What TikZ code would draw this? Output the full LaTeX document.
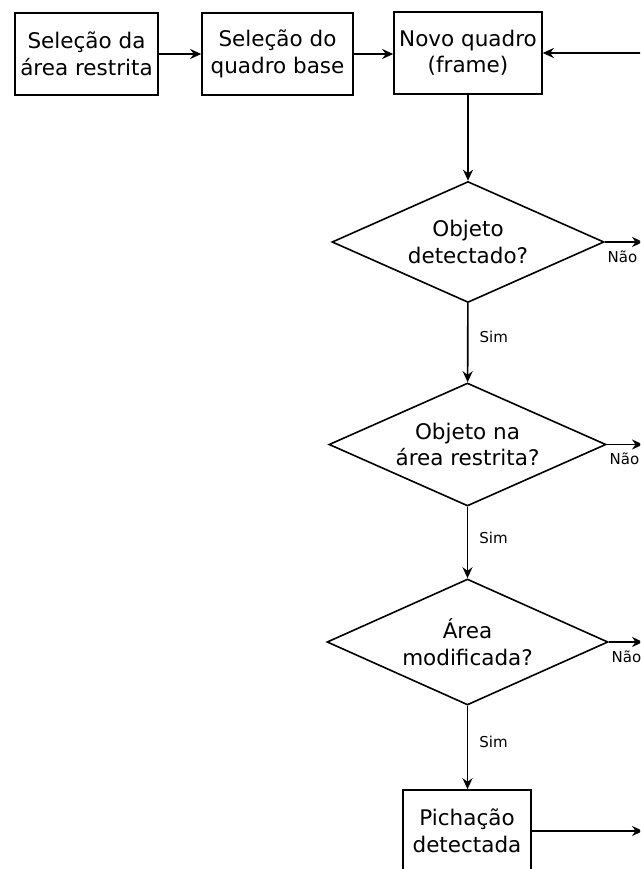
\documentclass[tikz,border=0pt]{standalone}
\usepackage{fontspec}
\setmainfont{DejaVu Sans}
\usetikzlibrary{shapes.geometric,arrows.meta}

\begin{document}
\begin{tikzpicture}[x=1pt,y=-1pt,
box/.style={draw,line width=1.6pt,align=center,inner sep=0pt,minimum height=82pt,font=\fontsize{21.5}{26.5}\selectfont},
decision/.style={draw,diamond,aspect=2.3,line width=1.6pt,align=center,inner sep=0pt,font=\fontsize{21.5}{26.5}\selectfont},
flow/.style={-{Stealth[length=11pt,width=10pt]},line width=1.6pt},
lbl/.style={font=\fontsize{15}{17}\selectfont,inner sep=2pt}]
\useasboundingbox (0,0) rectangle (640,869);
\clip (0,0) rectangle (640,869);

    \node[box,minimum width=143pt] (SelArea) at (86.5,54) {Seleção da\\área restrita};
    \node[box,minimum width=151pt] (SelBase) at (277.5,54) {Seleção do\\quadro base};
    \node[box,minimum width=148pt] (NovoQuadro) at (468,53) {Novo quadro\\(frame)};
    \node[decision,minimum width=272pt,minimum height=121pt] (ObjDet) at (468,242) {Objeto\\detectado?};
    \node[decision,minimum width=277pt,minimum height=123pt] (ObjArea) at (467.5,444.5) {Objeto na\\área restrita?};
    \node[decision,minimum width=281pt,minimum height=126pt] (AreaMod) at (467.5,642) {Área\\modificada?};
    \node[box,minimum width=128pt] (Pichacao) at (467,831) {Pichação\\detectada};

   % arrows leaving the picture on the right
   \coordinate (edge) at (643,0);
   \coordinate (back) at (660,53);

    \draw[flow] (SelArea) -- (SelBase);
    \draw[flow] (SelBase.east) -- (NovoQuadro.west |- SelBase.east);
    \draw[flow] (back) -- (NovoQuadro.east);
    \draw[flow] (NovoQuadro) -- (ObjDet);
    \draw[flow] (ObjDet) -- (ObjArea) node[lbl,pos=0.43,right=9pt] {Sim};
    \draw[flow] (ObjArea) -- (AreaMod) node[lbl,pos=0.43,right=9pt] {Sim};
    \draw[flow] (AreaMod.south) -- (Pichacao.north -| AreaMod.south) node[lbl,pos=0.43,right=9pt] {Sim};
    \draw[flow] (ObjDet.east) -- (ObjDet.east -| edge) node[lbl,pos=0,below right,yshift=-6pt] {Não};
    \draw[flow] (ObjArea.east) -- (ObjArea.east -| edge) node[lbl,pos=0,below right,yshift=-6pt] {Não};
    \draw[flow] (AreaMod.east) -- (AreaMod.east -| edge) node[lbl,pos=0,below right,yshift=-6pt] {Não};
    \draw[flow] (Pichacao.east) -- (Pichacao.east -| edge);

\end{tikzpicture}
\end{document}
